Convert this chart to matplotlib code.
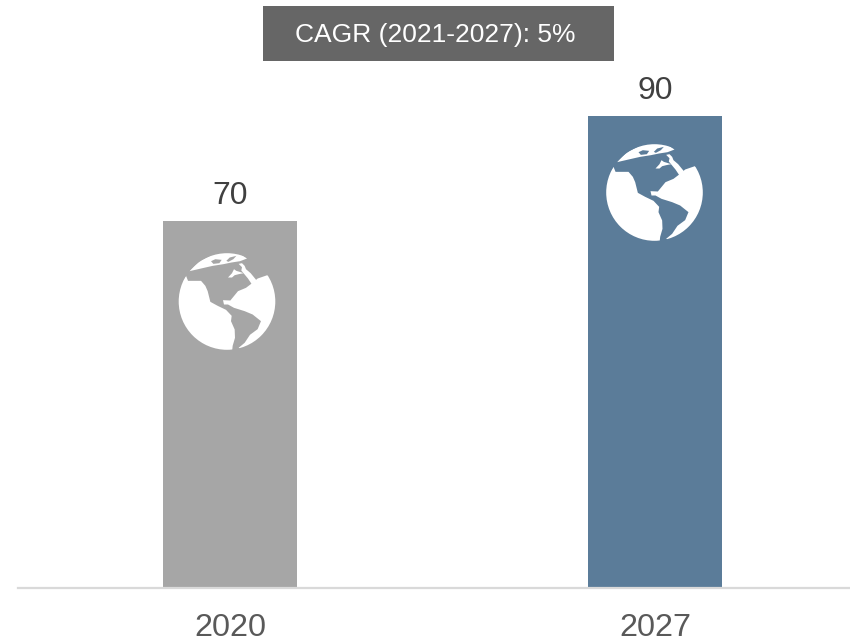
import matplotlib
matplotlib.use("Agg")
import matplotlib.pyplot as plt
from matplotlib.patches import Circle, Polygon, Rectangle
from matplotlib.transforms import Affine2D

# data
years = ["2020", "2027"]
values = [70, 90]
bar_colors = ["#A6A6A6", "#5B7C99"]
banner_text = "CAGR (2021-2027): 5%"

W, H = 850, 641
plt.rcParams["font.family"] = ["Liberation Sans", "DejaVu Sans"]

# globe icon outline (icon units, y down)
ICON_CENTER = (193, 187)
ICON_R = 145
LAND = [
    # arctic cap
    [(80, 96), (110, 66), (150, 46), (195, 36), (235, 46), (253, 58), (232, 66), (206, 70),
     (182, 75), (150, 80), (128, 85)],
    # north america and pacific side
    [(70, 110), (76, 125), (115, 125), (128, 140), (135, 156), (143, 188), (165, 200),
     (190, 212), (207, 230), (205, 246), (216, 271), (217, 296), (210, 320), (208, 340),
     (100, 360), (20, 200), (50, 140), (64, 118)],
    # atlantic side and south america
    [(228, 326), (246, 311), (262, 287), (285, 270), (295, 246), (270, 226), (246, 216),
     (214, 206), (196, 196), (184, 196), (181, 183), (203, 184), (226, 156), (250, 146),
     (271, 130), (285, 118), (314, 108), (345, 120), (360, 200), (320, 300), (260, 345)],
    # thin strip down to the gulf
    [(228, 74), (238, 72), (246, 80), (250, 90), (264, 102), (282, 124), (268, 136),
     (256, 118), (246, 106), (236, 94), (238, 84)],
    # small island
    [(196, 115), (208, 102), (214, 90), (221, 95), (231, 98), (243, 102), (228, 105),
     (216, 108), (208, 115)],
]
HOLES = [
    [(145, 66), (158, 60), (177, 62), (170, 72), (152, 74)],
    [(191, 65), (201, 55), (221, 50), (212, 60), (197, 68)],
]


def draw_globe(ax, cx, cy, radius, ocean):
    # cx, cy in image pixels, y from the top
    s = radius / ICON_R
    tr = (Affine2D().translate(-ICON_CENTER[0], -ICON_CENTER[1]).scale(s, -s)
          .translate(cx, H - cy))
    clip = Circle(ICON_CENTER, ICON_R, transform=tr)
    for pts in LAND:
        p = Polygon(pts, closed=True, facecolor="white", edgecolor="none", transform=tr, zorder=3)
        ax.add_patch(p)
        p.set_clip_path(clip)
    for pts in HOLES:
        ax.add_patch(Polygon(pts, closed=True, facecolor=ocean, edgecolor="none",
                             transform=tr, zorder=4))


fig = plt.figure(figsize=(W / 100, H / 100), dpi=100, facecolor="white")
# axes from x=17.5 to the right edge, baseline at y=587.5
ax = fig.add_axes([17.5 / W, (H - 587.5) / H, (W - 17.5) / W, 587.5 / H])
ax.set_xlim(-0.5, -0.5 + (W - 17.5) / 425)
ax.set_ylim(0, 587.5 / 5.235)

x = range(len(years))
bars = ax.bar(x, values, width=134 / 425, color=bar_colors, zorder=2)

for xi, v in zip(x, values):
    ax.text(xi, v + 2.0, str(v), ha="center", va="bottom", fontsize=23, color="#404040")

ax.set_xticks(list(x))
ax.set_xticklabels(years, fontsize=23.3, color="#595959")
ax.tick_params(axis="x", length=0, pad=18)
ax.set_yticks([])
for side in ["top", "right", "left"]:
    ax.spines[side].set_visible(False)
ax.spines["bottom"].set_color("#D9D9D9")
ax.spines["bottom"].set_linewidth(1.6)

# globe icons on the bars
draw_globe(ax, 227, 301.5, 48.3, bar_colors[0])
draw_globe(ax, 654.5, 192.5, 48.3, bar_colors[1])

# banner
fig.patches.append(Rectangle((263 / W, 1 - 61 / H), 351 / W, 55 / H, transform=fig.transFigure,
                             facecolor="#666666", edgecolor="none"))
fig.text(435.5 / W, 1 - 35 / H, banner_text, ha="center", va="center", fontsize=19, color="white")

fig.savefig("out.png", dpi=100)
plt.close(fig)
